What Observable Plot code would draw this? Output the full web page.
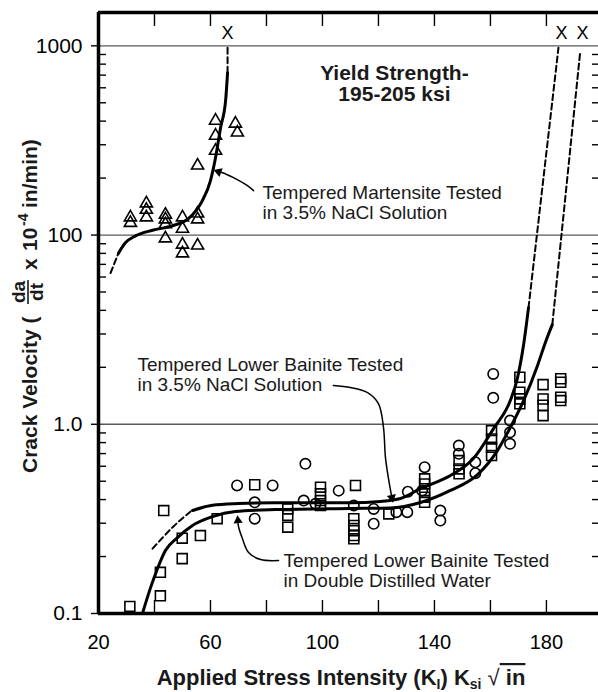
<!DOCTYPE html>
<html><head><meta charset="utf-8">
<script src="https://cdn.jsdelivr.net/npm/d3@7"></script>
<script src="https://cdn.jsdelivr.net/npm/@observablehq/plot@0.6"></script>
<style>
html,body{margin:0;padding:0;background:#fff;overflow:hidden}
#chart svg{display:block}
</style></head><body><div id="chart"></div>
<script>
const FONT = "'Liberation Sans', Arial, Helvetica, sans-serif";

// ---- axes (y values are in plotted decade positions; labels as printed) ----
const xDomain = [20, 198.6];
const yDomain = [0.1, 150];
const yMajorTicks = [0.1, 1, 10, 100];
const yTickLabels = ["0.1", "1.0", "100", "1000"];
const xMinorTicks = [40, 60, 80, 100, 120, 140, 160, 180];
const xTickLabels = [20, 60, 100, 140, 180];

// ---- Tempered martensite, 3.5% NaCl (triangles) ----
const triK = [31.4, 31.4, 37.1, 37.1, 37.1, 43.9, 43.9, 43.9, 43.9, 50.0, 50.0, 50.0, 50.0, 55.4, 55.4, 55.4, 55.4, 61.8, 61.8, 61.8, 68.9, 69.6];
const triV = [12.4, 11.6, 14.7, 13.6, 12.4, 12.8, 12.1, 11.4, 9.6, 12.4, 10.8, 8.9, 8.0, 13.0, 12.1, 8.8, 23.3, 40.2, 33.5, 27.9, 38.8, 34.8];

// ---- Tempered lower bainite (squares) ----
const sqK = [31.2, 42.1, 42.1, 43.3, 49.9, 49.9, 56.4, 62.4, 75.8, 87.6, 87.6, 87.6, 99.3, 99.3, 99.3, 99.3, 111.8, 111.2, 111.2, 111.2, 111.2, 111.2, 123.7, 136.5, 136.5, 136.5, 136.5, 136.5, 148.8, 148.8, 148.8, 160.4, 160.4, 160.4, 160.4, 170.5, 170.5, 170.5, 170.5, 178.8, 178.8, 178.8, 178.8, 185.1, 185.1, 185.1, 185.1];
const sqV = [0.109, 0.124, 0.165, 0.350, 0.195, 0.250, 0.258, 0.317, 0.479, 0.357, 0.330, 0.286, 0.465, 0.429, 0.395, 0.372, 0.475, 0.317, 0.292, 0.274, 0.258, 0.248, 0.336, 0.515, 0.484, 0.446, 0.412, 0.387, 0.643, 0.581, 0.547, 0.926, 0.837, 0.756, 0.683, 1.772, 1.476, 1.362, 1.282, 1.62, 1.36, 1.26, 1.11, 1.74, 1.667, 1.389, 1.334];

// ---- Tempered lower bainite (circles) ----
const ciK = [69.5, 82.2, 75.8, 75.8, 93.9, 93.3, 97.5, 105.8, 111.2, 118.3, 118.3, 126.4, 130.3, 130.5, 136.5, 135.6, 142.1, 142.1, 148.7, 148.7, 154.6, 154.6, 161.0, 161.0, 167.0, 167.0, 167.0];
const ciV = [0.475, 0.475, 0.387, 0.317, 0.618, 0.395, 0.380, 0.446, 0.372, 0.357, 0.298, 0.343, 0.343, 0.44, 0.593, 0.446, 0.350, 0.310, 0.772, 0.698, 0.630, 0.551, 1.846, 1.379, 1.046, 0.907, 0.788];

// ---- fitted curves ----
const martK = [27.1, 29.6, 33.2, 39.3, 46.4, 52.1, 57.1, 60.0, 61.8, 63.6, 65.4, 66.1];
const martV = [8.0, 9.1, 9.9, 10.6, 11.2, 12.2, 15.2, 19.4, 25.6, 36.9, 51.3, 72];
const martLowK = [24.3, 27.1], martLowV = [6.3, 8.0];
const martHighK = [66.1, 66.1], martHighV = [72, 100];

const naclK = [53.6, 60.7, 70.0, 83.2, 110.0, 120.7, 127.9, 135.0, 145.7, 153.9, 161.1, 167.1, 169.6, 171.8, 173.6];
const naclV = [0.350, 0.373, 0.381, 0.385, 0.385, 0.391, 0.405, 0.457, 0.536, 0.659, 0.949, 1.334, 1.743, 2.605, 4.13];
const naclLowK = [39.3, 46.4, 52.9], naclLowV = [0.220, 0.285, 0.346];
const naclHighK = [173.6, 184.3], naclHighV = [4.13, 97.7];

const waterK = [35.7, 38.6, 41.1, 43.9, 48.2, 53.6, 60.7, 68.9, 83.2, 110.0, 124.3, 135.0, 145.7, 155.4, 162.5, 167.1, 171.8, 176.8, 179.6, 182.1];
const waterV = [0.1, 0.137, 0.173, 0.215, 0.252, 0.292, 0.325, 0.346, 0.354, 0.359, 0.361, 0.386, 0.447, 0.542, 0.726, 0.961, 1.33, 2.04, 2.70, 3.36];
const waterHighK = [182.1, 192.1], waterHighV = [3.36, 94.2];

// ---- failure marks ----
const failK = [66.1, 185.4, 192.9];
const failV = [117, 117, 117];

// ---- annotations ----
const noteK = [78.6, 33.9, 86.1];
const noteV = [14.83, 1.83, 0.1687];
const noteText = ["Tempered Martensite Tested\nin 3.5% NaCl Solution",
                  "Tempered Lower Bainite Tested\nin 3.5% NaCl Solution",
                  "Tempered Lower Bainite Tested\nin Double Distilled Water"];
const titleText = "Yield Strength-\n195-205 ksi";

const arrowMartK = [75.4, 73.2, 68.2, 64.3, 62.9], arrowMartV = [17.16, 18.24, 20.11, 21.36, 21.62];
const arrowNaclK = [103.9, 110.0, 116.1, 120.0, 121.8, 122.5, 124.0, 124.8], arrowNaclV = [1.601, 1.563, 1.471, 1.286, 0.961, 0.667, 0.475, 0.410];
const arrowWaterK = [84.3, 77.9, 73.6, 71.4, 70.0, 69.8], arrowWaterV = [0.1905, 0.1929, 0.2100, 0.2490, 0.2882, 0.310];
const headK = [62.9, 124.8, 69.8], headV = [21.62, 0.410, 0.310], headAngle = [290, 168, 355];

const pts = (K, V) => K.map((k, i) => ({k, v: V[i]}));
const yMinor = [];
for (const d of [0.1, 1, 10]) for (let m = 2; m <= 9; m++) yMinor.push(+(m * d).toPrecision(3));

const solid = {x: "k", y: "v", stroke: "black", strokeWidth: 3, curve: "monotone-x"};
const dashed = {x: "k", y: "v", stroke: "black", strokeWidth: 2, strokeDasharray: "6,3.5"};
const arrowLine = {x: "k", y: "v", stroke: "black", strokeWidth: 1.5, curve: "catmull-rom"};

const svg = Plot.plot({
  width: 598, height: 692,
  marginLeft: 98, marginRight: 0, marginTop: 12, marginBottom: 79,
  style: {fontFamily: FONT, fontSize: "21px", color: "black", background: "white"},
  x: {type: "linear", domain: xDomain},
  y: {type: "log", domain: yDomain},
  marks: [
    Plot.ruleY(yMajorTicks.slice(1), {stroke: "#5a5a5a", strokeWidth: 1.3}),
    Plot.axisY(yMinor, {anchor: "left", tickSize: 8, dx: 8, tickFormat: () => "", strokeWidth: 1.4, label: null}),
    Plot.axisY(yMinor, {anchor: "right", tickSize: 7, dx: -7, tickFormat: () => "", strokeWidth: 1.4, label: null}),
    Plot.axisY(yMajorTicks, {anchor: "left", tickSize: 7, tickPadding: 9, strokeWidth: 1.4, fontSize: 21,
      tickFormat: d => yTickLabels[yMajorTicks.indexOf(d)], label: null}),
    Plot.axisX(xMinorTicks, {anchor: "top", tickSize: 13, dy: 13, tickFormat: () => "", strokeWidth: 1.4, label: null}),
    Plot.axisX(xMinorTicks, {anchor: "bottom", tickSize: 13, dy: -13, tickFormat: () => "", strokeWidth: 1.4, label: null}),
    Plot.axisX(xTickLabels, {anchor: "bottom", tickSize: 0, tickPadding: 21, fontSize: 20, label: null}),
    Plot.ruleX([xDomain[0]], {strokeWidth: 3.5}),
    Plot.ruleY([yDomain[0]], {strokeWidth: 3.5}),
    Plot.ruleY([yDomain[1]], {strokeWidth: 3.5}),

    Plot.line(pts(martK, martV), solid),
    Plot.line(pts(martLowK, martLowV), dashed),
    Plot.line(pts(martHighK, martHighV), dashed),
    Plot.line(pts(naclK, naclV), solid),
    Plot.line(pts(naclLowK, naclLowV), {...dashed, curve: "natural"}),
    Plot.line(pts(naclHighK, naclHighV), dashed),
    Plot.line(pts(waterK, waterV), solid),
    Plot.line(pts(waterHighK, waterHighV), dashed),

    Plot.dot(pts(triK, triV), {x: "k", y: "v", symbol: "triangle", r: 4.5, stroke: "black", strokeWidth: 1.6, fill: "none"}),
    Plot.dot(pts(sqK, sqV), {x: "k", y: "v", symbol: "square", r: 5.6, stroke: "black", strokeWidth: 1.6, fill: "none"}),
    Plot.dot(pts(ciK, ciV), {x: "k", y: "v", symbol: "circle", r: 5.2, stroke: "black", strokeWidth: 1.6, fill: "none"}),

    Plot.text(pts(failK, failV), {x: "k", y: "v", text: () => "X", fontSize: 18, fill: "black"}),

    Plot.line(pts(arrowMartK, arrowMartV), arrowLine),
    Plot.line(pts(arrowNaclK, arrowNaclV), arrowLine),
    Plot.line(pts(arrowWaterK, arrowWaterV), arrowLine),
    Plot.dot(headK.map((k, i) => ({k, v: headV[i], a: headAngle[i]})), {x: "k", y: "v", rotate: "a", symbol: "triangle", r: 3.4, fill: "black", stroke: "none"}),

    Plot.text(noteK.map((k, i) => ({k, v: noteV[i], t: noteText[i]})), {x: "k", y: "v", text: "t", textAnchor: "start", lineAnchor: "middle", fontSize: 19, lineHeight: 1.05, fill: "#1a1a1a"}),
    Plot.text([{k: 125.7, v: 63.1, t: titleText}], {x: "k", y: "v", text: "t", textAnchor: "middle", lineAnchor: "middle", fontSize: 21, fontWeight: "bold", lineHeight: 1.0, fill: "#1a1a1a"})
  ]
});

const s = d3.select(svg);
// x-axis title
const xl = s.append("text").attr("x", 341).attr("y", 685).attr("text-anchor", "middle")
  .attr("font-family", FONT).attr("font-weight", "bold").attr("font-size", 22).attr("fill", "#1a1a1a");
xl.append("tspan").text("Applied Stress Intensity (K");
xl.append("tspan").attr("font-size", 14).attr("dy", 4).text("I");
xl.append("tspan").attr("dy", -4).text(") K");
xl.append("tspan").attr("font-size", 14).attr("dy", 4).text("si");
xl.append("tspan").attr("dy", -4).attr("font-weight", "normal").text(" \u221A");
xl.append("tspan").attr("style", "text-decoration: overline").text(" in");

// y-axis title
const g = s.append("g").attr("transform", "translate(37,473) rotate(-90)")
  .attr("font-family", FONT).attr("font-weight", "bold").attr("fill", "#1a1a1a").attr("text-anchor", "start");
g.append("text").attr("x", 0).attr("y", 0).attr("font-size", 21).attr("text-anchor", "start").text("Crack Velocity (");
g.append("text").attr("x", 181).attr("y", -12).attr("text-anchor", "middle").attr("font-size", 19).text("da");
g.append("line").attr("x1", 169).attr("x2", 193).attr("y1", -9).attr("y2", -9).attr("stroke", "#1a1a1a").attr("stroke-width", 1.6);
g.append("text").attr("x", 181).attr("y", 6).attr("text-anchor", "middle").attr("font-size", 19).text("dt");
const yr = g.append("text").attr("y", 0).attr("font-size", 21).attr("text-anchor", "start");
yr.append("tspan").attr("x", 203).text("x");
yr.append("tspan").attr("x", 222).text("10");
yr.append("tspan").attr("x", 247).attr("dy", -9).attr("font-size", 14).text("-4");
yr.append("tspan").attr("x", 265).attr("dy", 9).text("in/min)");

document.getElementById("chart").appendChild(svg);
</script>
</body></html>
